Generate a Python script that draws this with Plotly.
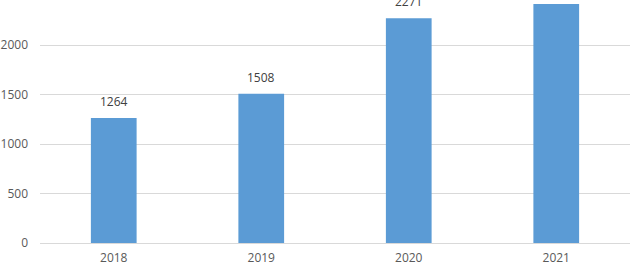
import plotly.graph_objects as go

years = ["2018", "2019", "2020", "2021"]
values = [1264, 1508, 2271, 2415]
y_ticks = [0, 500, 1000, 1500, 2000]

fig = go.Figure(go.Bar(
    x=years, y=values,
    marker=dict(color="#5b9bd5", line=dict(width=0)),
    cliponaxis=True,
))
for i, v in enumerate(values):
    fig.add_annotation(x=i, y=v, text=str(v), showarrow=False, yanchor="bottom",
                       yshift=6, font=dict(family="Open Sans", size=12, color="#404040"))
fig.update_layout(
    width=630, height=265,
    margin=dict(l=40, r=0, t=0, b=22, autoexpand=False),
    paper_bgcolor="white", plot_bgcolor="white",
    bargap=0.69,
    showlegend=False,
    font=dict(family="Open Sans", size=12, color="#595959"),
)
fig.update_xaxes(type="category", range=[-0.5, len(years) - 0.5], showgrid=False,
                 showline=False, ticks="", ticklabelstandoff=6, automargin=False,
                 tickfont=dict(size=12, color="#595959"))
fig.update_yaxes(range=[0, 2455], tickvals=y_ticks, showgrid=True, gridcolor="#d9d9d9",
                 gridwidth=1, zeroline=True, zerolinecolor="#d9d9d9", zerolinewidth=1,
                 showline=False, ticks="", ticklabelstandoff=11, automargin=False,
                 tickfont=dict(size=12, color="#595959"))
fig.write_html("out.html", config={"displayModeBar": False},
               post_script="document.body.style.margin='0';")
